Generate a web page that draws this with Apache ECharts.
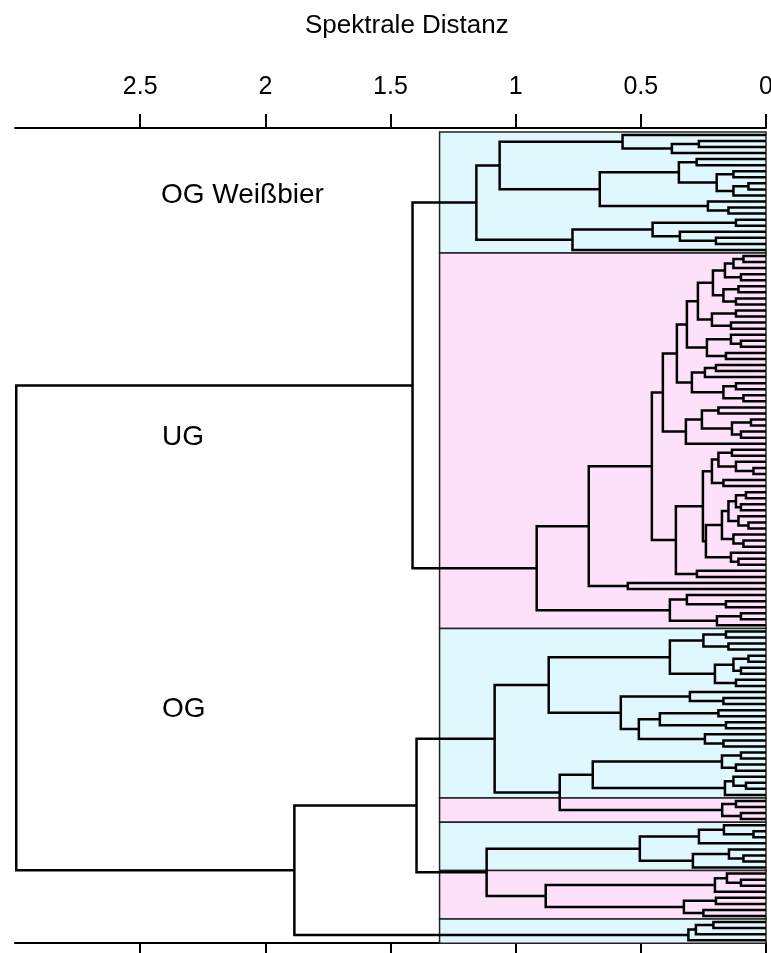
<!DOCTYPE html>
<html>
<head>
<meta charset="utf-8">
<script src="https://cdn.jsdelivr.net/npm/echarts@6/dist/echarts.min.js"></script>
<style>
  html, body { margin: 0; padding: 0; background: #fff; }
  #chart { width: 771px; height: 953px; }
</style>
</head>
<body>
<div id="chart"></div>
<script>
// x axis: spectral distance, 3 on the left, 0 on the right
const distTicks = [0, 0.5, 1, 1.5, 2, 2.5];

// subtrees as [mergeHeight, upperChild, lowerChild]; 0 = one spectrum
const ogWeissbier = [1.157,
  [1.064,
    [0.573, 0, [0.376, [0.268, 0, 0], 0]],
    [0.664,
      [0.348, [0.277, 0, 0], [0.197, [0.13, 0, 0], [0.13, [0.07, 0, 0], 0]]],
      [0.232, 0, [0.15, 0, 0]]]],
  [0.773, [0.453, [0.12, 0, 0], [0.344, 0, [0.2, 0, 0]]], 0]];

const ugUpper = [0.412,
  [0.356,
    [0.316,
      [0.272,
        [0.212, [0.164, [0.13, [0.09, 0, 0], 0], [0.1, 0, 0]], [0.17, [0.11, 0, 0], [0.12, 0, 0]]],
        [0.216, [0.12, 0, 0], [0.14, 0, 0]]],
      [0.236, [0.14, 0, [0.1, 0, 0]], [0.16, 0, 0]]],
    [0.296, [0.244, [0.2, 0, 0], 0], [0.17, [0.12, 0, 0], [0.09, 0, 0]]]],
  [0.32, [0.256, [0.19, 0, 0], [0.136, [0.06, 0, 0], [0.1, 0, 0]]], 0]];

const ugLower = [0.36,
  [0.252,
    [0.216, [0.19, [0.136, 0, 0], [0.12, 0, [0.05, 0, 0]]], [0.17, 0, 0]],
    [0.24,
      [0.176, [0.15, [0.12, [0.08, 0, 0], [0.1, 0, 0]], [0.11, 0, [0.07, 0, 0]]], [0.13, 0, [0.09, 0, 0]]],
      [0.14, 0, [0.11, 0, 0]]]],
  [0.276, 0, 0]];

const ug = [0.916,
  [0.708, [0.456, ugUpper, ugLower], [0.552, 0, 0]],
  [0.384, [0.316, 0, [0.16, 0, 0]], [0.196, [0.1, 0, 0], 0]]];

const ogMain = [1.084,
  [0.868,
    [0.384, [0.25, [0.16, 0, 0], [0.15, 0, 0]], [0.204, [0.13, [0.07, 0, 0], [0.1, 0, 0]], [0.12, 0, 0]]],
    [0.58, [0.304, 0, [0.17, 0, 0]], [0.508, [0.424, [0.19, 0, 0], [0.16, 0, 0]], [0.244, 0, [0.17, 0, 0]]]]],
  [0.824,
    [0.692, [0.176, [0.1, 0, 0], [0.12, 0, 0]], [0.164, [0.13, 0, [0.08, 0, 0]], 0]],
    [0.175, [0.12, 0, 0], [0.1, 0, 0]]]];

const ogSmall = [1.116,
  [0.504, [0.268, [0.168, 0, [0.05, 0, 0]], 0], [0.292, [0.148, 0, [0.09, 0, 0]], 0]],
  [0.88, [0.204, [0.156, 0, [0.1, 0, 0]], 0], [0.328, [0.2, 0, 0], [0.25, 0, 0]]]];

const ogTail = [0.31, [0.28, [0.21, 0, 0], 0], 0];

const og = [1.884, [1.396, ogMain, ogSmall], ogTail];
const rootTree = [2.995, [1.412, ogWeissbier, ug], og];

// coloured blocks: number of spectra per block, top to bottom
const bandSizes = [20, 62, 28, 4, 8, 8, 4];
const bandKinds = [0, 1, 0, 1, 0, 1, 0]; // 0 = OG (cyan), 1 = UG (pink)
const bandCut = 1.304;

const groupLabels = ['OG Weißbier', 'UG', 'OG'];

// --- layout of the dendrogram ---
let leafCount = 0;
const segments = [];
function layout(node) {
  if (!Array.isArray(node)) return { h: 0, y: leafCount++ };
  const a = layout(node[1]);
  const b = layout(node[2]);
  const h = node[0];
  segments.push({ coords: [[a.h, a.y], [h, a.y], [h, b.y], [b.h, b.y]] });
  return { h: h, y: (a.y + b.y) / 2 };
}
layout(rootTree);

const bands = [];
let start = 0;
bandSizes.forEach((n, i) => {
  bands.push([start - 0.5, start + n - 0.5, bandKinds[i]]);
  start += n;
});

const chart = echarts.init(document.getElementById('chart'), null, { renderer: 'canvas' });
const font = '"Liberation Sans", Arial, Helvetica, sans-serif';

const xAxisBase = {
  type: 'value',
  inverse: true,
  min: 0,
  max: 3,
  splitLine: { show: false },
  axisLine: { show: true, onZero: false, lineStyle: { color: '#000', width: 2 } },
  axisTick: { show: true, inside: false, length: 14, customValues: distTicks, lineStyle: { color: '#000', width: 2 } }
};

chart.setOption({
  animation: false,
  grid: { left: 15, right: 5, top: 128, bottom: 10, containLabel: false, outerBoundsMode: 'none' },
  xAxis: [
    Object.assign({}, xAxisBase, {
      position: 'top',
      axisLabel: { customValues: distTicks, margin: 28, fontSize: 25, color: '#000', fontFamily: font }
    }),
    Object.assign({}, xAxisBase, {
      position: 'bottom',
      axisLabel: { show: false }
    })
  ],
  yAxis: { type: 'value', inverse: true, min: -1.14, max: 133.46, show: false },
  graphic: [
    { type: 'text', left: 305, top: 13, style: { text: 'Spektrale Distanz', font: '26px ' + font, fill: '#000' } },
    { type: 'text', left: 161, top: 181, style: { text: groupLabels[0], font: '28px ' + font, fill: '#000' } },
    { type: 'text', left: 162, top: 423, style: { text: groupLabels[1], font: '28px ' + font, fill: '#000' } },
    { type: 'text', left: 162, top: 695, style: { text: groupLabels[2], font: '28px ' + font, fill: '#000' } }
  ],
  series: [
    {
      type: 'custom',
      z: 1,
      silent: true,
      data: bands,
      renderItem: function (params, api) {
        const p0 = api.coord([bandCut, api.value(0)]);
        const p1 = api.coord([0, api.value(1)]);
        return {
          type: 'rect',
          shape: { x: p0[0], y: p0[1], width: p1[0] - p0[0], height: p1[1] - p0[1] },
          style: { fill: api.value(2) === 1 ? '#fde0f9' : '#def8fd', stroke: '#222', lineWidth: 1.5 }
        };
      }
    },
    {
      type: 'lines',
      coordinateSystem: 'cartesian2d',
      polyline: true,
      z: 3,
      silent: true,
      lineStyle: { color: '#000', width: 2.5, opacity: 1 },
      data: segments
    }
  ]
});
</script>
</body>
</html>
